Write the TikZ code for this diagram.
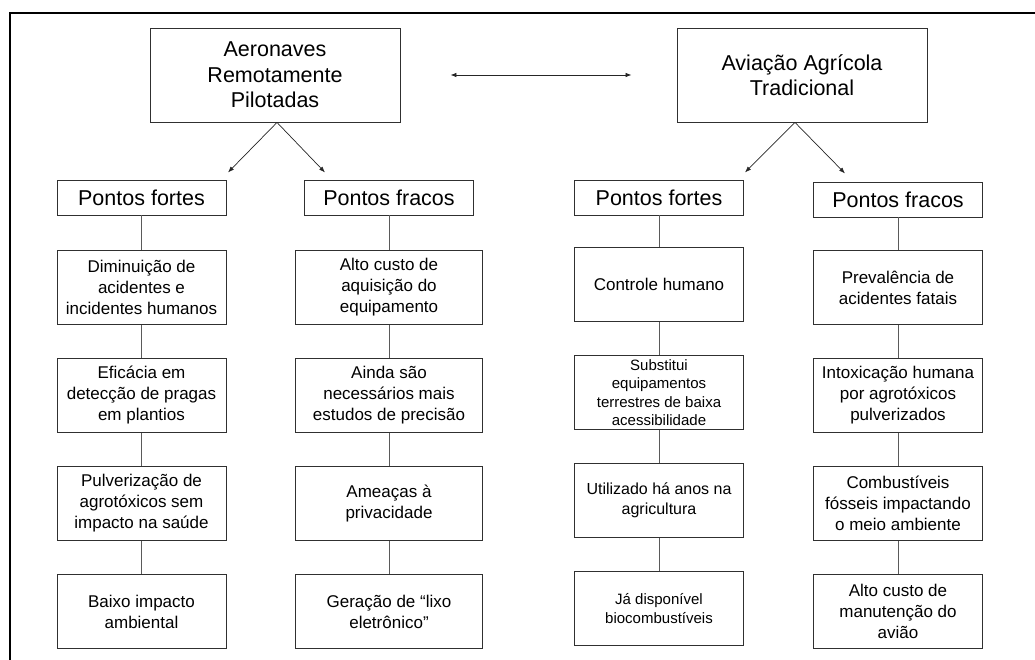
\documentclass[tikz,border=0pt]{standalone}
\usepackage{fontspec}
\setmainfont{Liberation Sans}
\usetikzlibrary{arrows.meta}
\definecolor{boxGray}{HTML}{303030}
\definecolor{lineGray}{HTML}{5a5a5a}

\begin{document}
\begin{tikzpicture}[
    node distance = 108pt,
    >={Latex[length=6pt, width=4.5pt]},
    box/.style = {draw=boxGray, line width=0.9pt, rectangle, align=center, inner sep=0pt},
    top/.style = {box, minimum width=250pt, minimum height=94pt, font=\fontsize{21.5}{25.5}\selectfont},
    head/.style = {box, minimum width=169pt, minimum height=35pt, font=\fontsize{21.5}{25}\selectfont},
    item/.style = {box, minimum width=169pt, minimum height=74pt, font=\fontsize{17}{21}\selectfont},
    wideitem/.style = {item, minimum width=187pt},
    small/.style = {font=\fontsize{15}{18.5}\selectfont},
    line/.style = {draw=lineGray, line width=0.9pt},
    arrow/.style = {draw=black!85, line width=0.7pt, ->}
]
            \useasboundingbox (-275pt,75pt) rectangle (760pt,-585pt);
            \draw[line width=1.6pt] (-265pt,-600pt) -- (-265pt,62pt) -- (780pt,62pt);

            \node[top] (1) [] {Aeronaves\\Remotamente\\Pilotadas};
            \node[top] (2) [right of = 1, node distance = 527pt] {Aviação Agrícola\\Tradicional};

            \node[head] (3) [below of = 1, node distance = 122.5pt, xshift = -133.5pt] {Pontos fortes};
            \node[head] (4) [right of = 3, node distance = 247.5pt] {Pontos fracos};
            \node[head] (5) [below of = 2, node distance = 122.5pt, xshift = -143pt] {Pontos fortes};
            \node[head] (6) [right of = 5, node distance = 239pt, yshift = -2pt] {Pontos fracos};

            \node[item] (7) [below of = 3, yshift = 18pt] {Diminuição de\\acidentes e\\incidentes humanos};
            \node[item] (8) [below of = 7] {Eficácia em\\detecção de pragas\\em plantios};
            \node[item] (9) [below of = 8] {Pulverização de\\agrotóxicos sem\\impacto na saúde};
            \node[item] (10) [below of = 9] {Baixo impacto\\ambiental};

            \node[wideitem] (11) [below of = 4, yshift = 18pt] {Alto custo de\\aquisição do\\equipamento};
            \node[wideitem] (12) [below of = 11] {Ainda são\\necessários mais\\estudos de precisão};
            \node[wideitem] (13) [below of = 12] {Ameaças à\\privacidade};
            \node[wideitem] (14) [below of = 13] {Geração de “lixo\\eletrônico”};

            \node[item] (15) [below of = 5, yshift = 21pt] {Controle humano};
            \node[item, small] (16) [below of = 15] {Substitui\\equipamentos\\terrestres de baixa\\acessibilidade};
            \node[item, font=\fontsize{16}{20}\selectfont] (17) [below of = 16] {Utilizado há anos na\\agricultura};
            \node[item, small] (18) [below of = 17] {Já disponível\\biocombustíveis};

            \node[item] (19) [below of = 6, yshift = 20pt] {Prevalência de\\acidentes fatais};
            \node[item] (20) [below of = 19] {Intoxicação humana\\por agrotóxicos\\pulverizados};
            \node[item] (21) [below of = 20] {Combustíveis\\fósseis impactando\\o meio ambiente};
            \node[item] (22) [below of = 21] {Alto custo de\\manutenção do\\avião};

            % tips of the split arrows
            \coordinate (p1) at ([xshift = 2pt]1.south);
            \coordinate (a1) at ([xshift = -49pt, yshift = -50pt]p1);
            \coordinate (b1) at ([xshift = 48pt, yshift = -50pt]p1);
            \coordinate (p2) at ([xshift = -7pt]2.south);
            \coordinate (a2) at ([xshift = -50pt, yshift = -50pt]p2);
            \coordinate (b2) at ([xshift = 50pt, yshift = -51pt]p2);

            \path
                (1) edge[arrow, <->, shorten <= 50pt, shorten >= 45pt] (2)
                (p1) edge[arrow] (a1)
                (p1) edge[arrow] (b1)
                (p2) edge[arrow] (a2)
                (p2) edge[arrow] (b2)
            ;

            \path[line]
                (3) edge (7)
                (7) edge (8)
                (8) edge (9)
                (9) edge (10)

                (4) edge (11)
                (11) edge (12)
                (12) edge (13)
                (13) edge (14)

                (5) edge (15)
                (15) edge (16)
                (16) edge (17)
                (17) edge (18)

                (6) edge (19)
                (19) edge (20)
                (20) edge (21)
                (21) edge (22)
            ;
        \end{tikzpicture}
\end{document}
